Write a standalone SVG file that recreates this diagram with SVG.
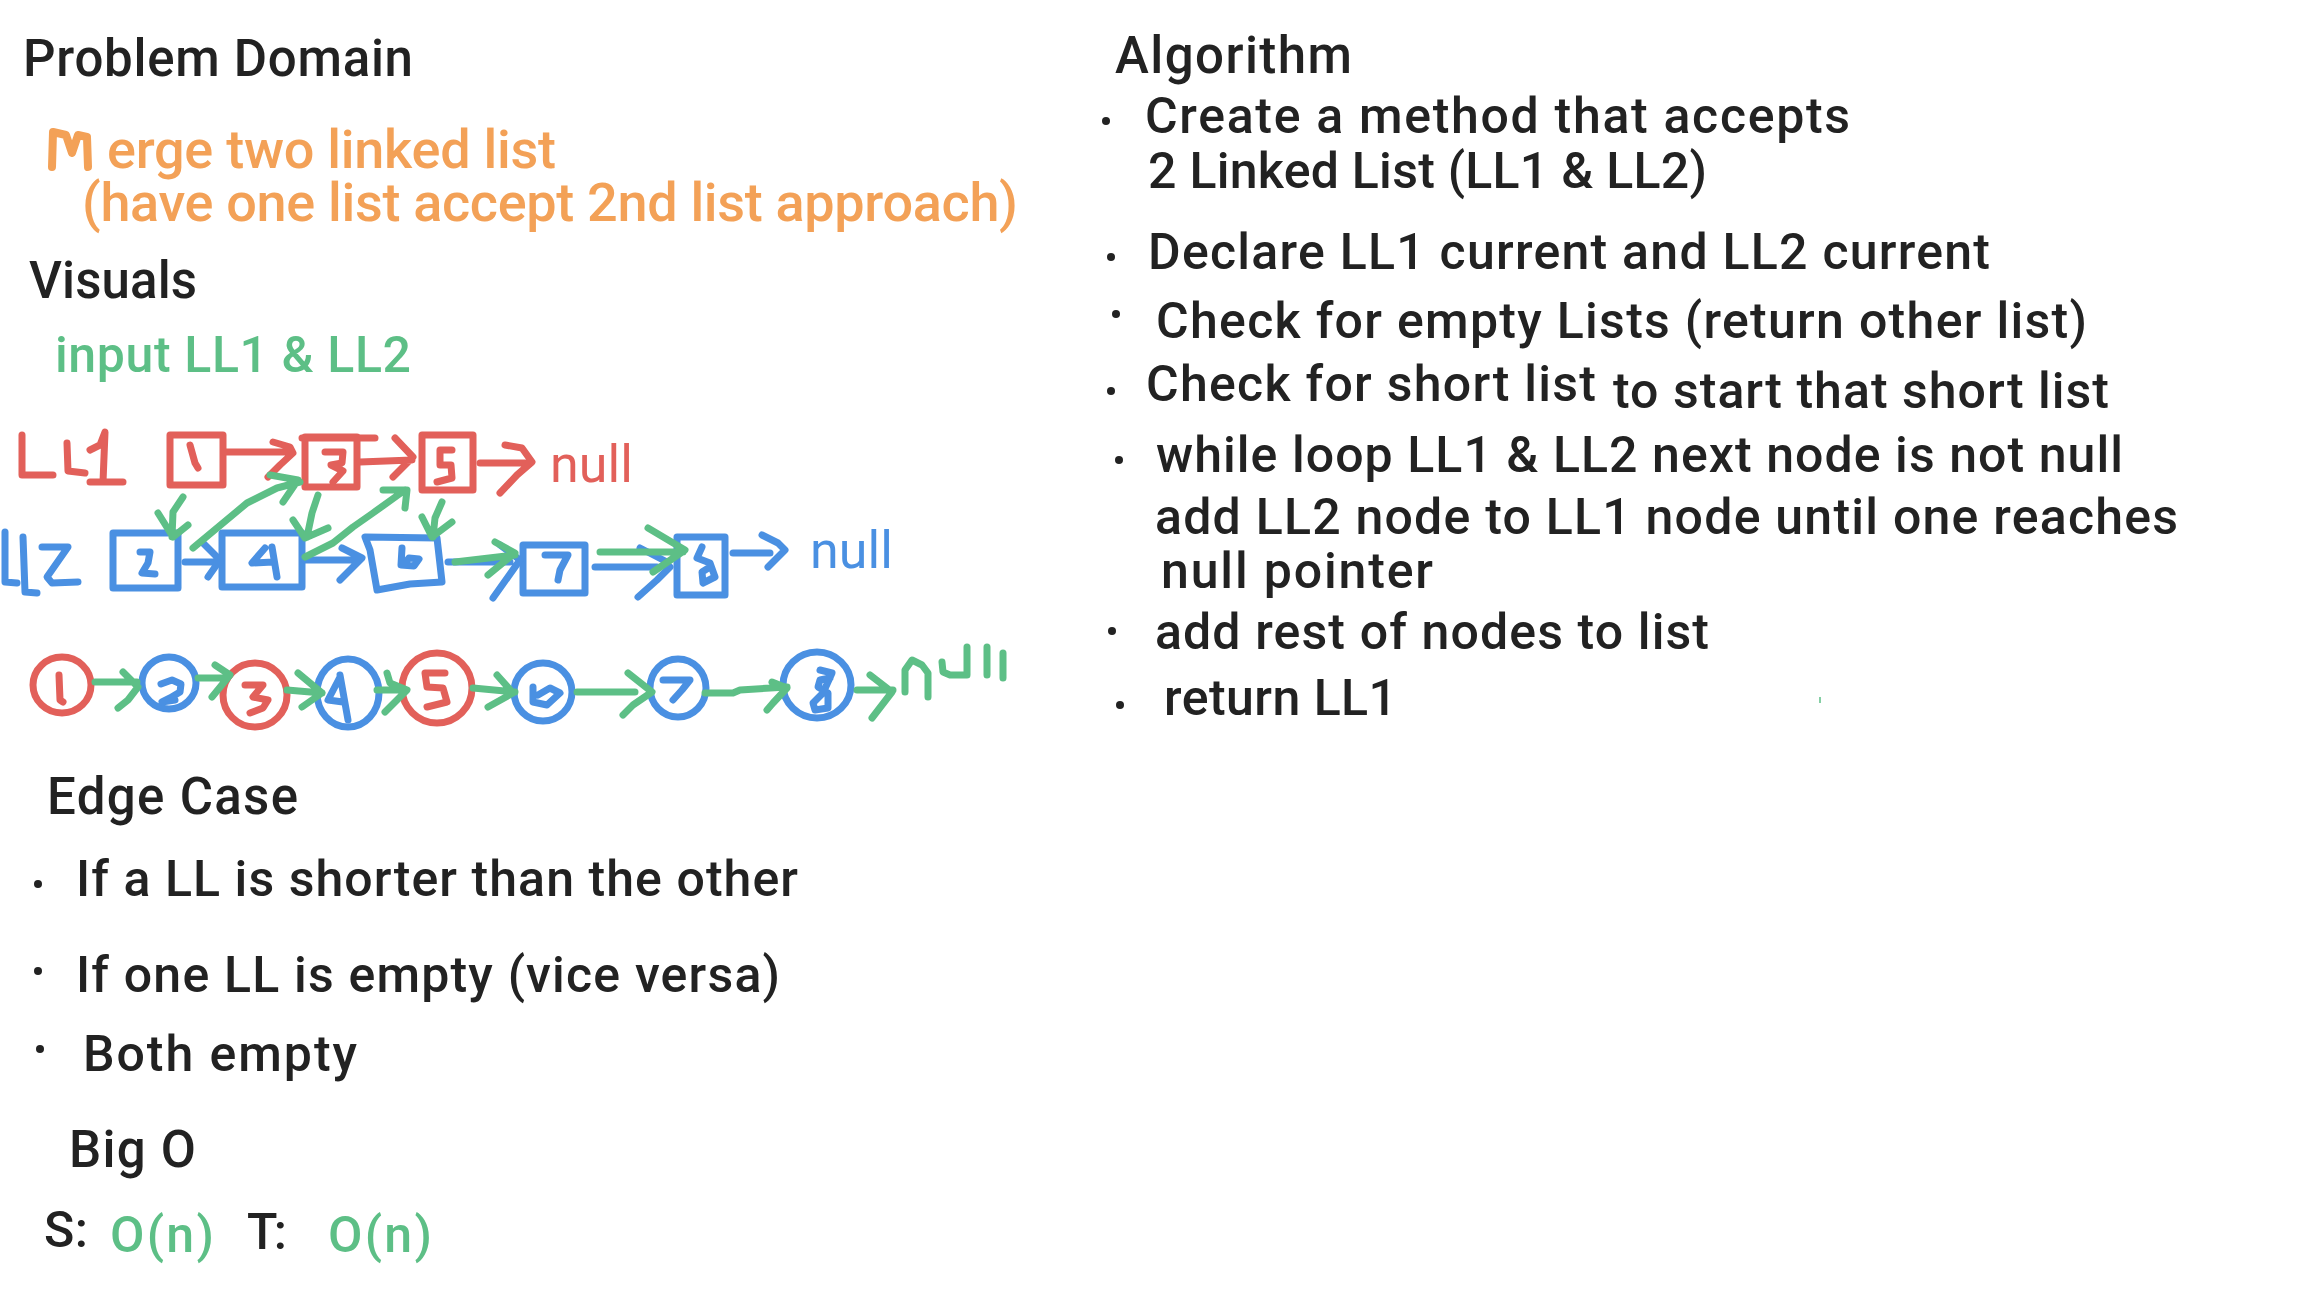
<svg xmlns="http://www.w3.org/2000/svg" width="2304" height="1296" viewBox="0 0 2304 1296">
<style>
text{font-family:Roboto,"Liberation Sans",sans-serif;font-weight:500;}
.k{fill:#222222;font-size:50px;}
.h{fill:#222222;font-size:51px;}
.or{fill:#F3A157;font-size:54px;}
.gt{fill:#5DBF86;font-size:50px;}
.rt{fill:#E2605A;font-size:52px;font-weight:400;}
.bt{fill:#4A90E2;font-size:52px;font-weight:400;}
.s{fill:none;stroke-width:7;stroke-linecap:round;stroke-linejoin:round;}
.r{stroke:#E2605A;}
.b{stroke:#4A90E2;}
.g{stroke:#5DBF86;}
.o{stroke:#F3A157;stroke-width:8;}
.dot{fill:#222222;}
</style>
<rect width="2304" height="1296" fill="#ffffff"/>

<g id="problem-domain">
<text class="h" x="23" y="76" textLength="390">Problem Domain</text>
<path class="s o" d="M52,167 L53,132 L66,135 L72,153 L78,135 L87,137 L88,167"/>
<text class="or" x="107" y="168" textLength="449">erge two linked list</text>
<text class="or" x="82" y="221" textLength="936">(have one list accept 2nd list approach)</text>
</g>

<g id="visuals">
<text class="h" x="29" y="298" textLength="168">Visuals</text>
<text class="gt" x="55" y="372" textLength="356">input LL1 &amp; LL2</text>
</g>

<g id="ll1-label">
<path class="s r" d="M22,435 L22,475 L53,475 M67,443 L68,471 L85,473 M90,450 L100,445 L105,432 L103,482 M90,482 L123,482"/>
</g>
<g id="ll1-node1">
<rect class="s r" x="170" y="435" width="53" height="50"/>
<path class="s r" d="M190,445 L195,463 L198,468"/>
</g>
<g id="ll1-node3">
<rect class="s r" x="305" y="437" width="52" height="50"/>
<path class="s r" d="M302,438 L375,438 M325,452 L343,452 L342,463 L331,465 L343,471 L333,482"/>
</g>
<g id="ll1-node5">
<rect class="s r" x="422" y="435" width="51" height="55"/>
<path class="s r" d="M452,450 L440,450 L440,465 L451,465 L452,478 L437,482"/>
</g>
<text id="ll1-null" class="rt" x="550" y="482" textLength="83">null</text>

<g id="ll2-label">
<path class="s b" d="M5,532 L5,582 L17,583 M23,537 L25,592 L37,593 M42,547 L68,547 L47,577 L52,583 L78,582"/>
</g>
<g id="ll2-node2">
<rect class="s b" x="113" y="533" width="65" height="55"/>
<path class="s b" d="M140,552 L150,552 L148,563 L142,573 L155,574"/>
</g>
<g id="ll2-node4">
<rect class="s b" x="222" y="533" width="80" height="54"/>
<path class="s b" d="M265,548 L252,563 L273,562 M272,547 L277,577"/>
</g>
<g id="ll2-node6">
<path class="s b" d="M365,537 L437,538 L442,582 L410,584 L377,590 L370,550 Z"/>
<path class="s b" d="M402,548 L401,565 L414,566 L419,559 L409,558 L405,563"/>
</g>
<g id="ll2-node7">
<rect class="s b" x="523" y="545" width="62" height="48"/>
<path class="s b" d="M545,555 L568,555 L560,570 L558,580"/>
</g>
<g id="ll2-node8">
<rect class="s b" x="677" y="537" width="48" height="58"/>
<path class="s b" d="M702,547 L697,558 L710,563 L715,577 L703,583 L702,572 L710,567"/>
</g>
<text id="ll2-null" class="bt" x="810" y="568" textLength="83">null</text>

<g id="m1"><ellipse class="s r" cx="62" cy="685" rx="29" ry="28"/><path class="s r" d="M59,675 L60,700 L63,702"/></g>
<g id="m2"><ellipse class="s b" cx="169" cy="683" rx="27" ry="26"/><path class="s b" d="M161,684 L172,680 L181,684 L180,692 L170,698 L162,702 L175,700"/></g>
<g id="m3"><ellipse class="s r" cx="255" cy="695" rx="32" ry="32"/><path class="s r" d="M245,685 L263,685 L253,697 L268,700 L263,708 L250,713"/></g>
<g id="m4"><ellipse class="s b" cx="348" cy="693" rx="31" ry="34"/><path class="s b" d="M340,677 L328,700 L343,702 M340,675 L348,720"/></g>
<g id="m5"><ellipse class="s r" cx="437" cy="688" rx="35" ry="35"/><path class="s r" d="M445,673 L425,673 L427,687 L443,688 L447,702 L427,707"/></g>
<g id="m6"><ellipse class="s b" cx="543" cy="692" rx="29" ry="29"/><path class="s b" d="M533,687 L533,702 L547,705 L560,693 L550,688 L538,695"/></g>
<g id="m7"><ellipse class="s b" cx="678" cy="688" rx="28" ry="29"/><path class="s b" d="M663,680 L690,680 L682,690 L673,700"/></g>
<g id="m8"><ellipse class="s b" cx="817" cy="685" rx="34" ry="33"/><path class="s b" d="M820,670 L832,673 L823,693 L813,703 L815,710 L828,708 L828,693 L818,687 L820,680 L830,678"/></g>
<g id="merged-null">
<path class="s g" d="M905,692 L905,670 L912,660 L922,665 L928,673 L928,697 M942,662 L943,672 L950,675 L967,675 L967,647 M987,647 L987,675 M1003,653 L1003,678"/>
</g>

<g id="connectors">
<path class="s r" d="M225,452 L287,452 M273,442 L290,447 L293,453 L280,465 L268,477"/>
<path class="s r" d="M360,462 L412,460 M395,438 L413,457 L393,477"/>
<path class="s r" d="M480,463 L525,463 M505,445 L522,448 L532,462 L517,475 L500,493"/>
<path class="s b" d="M185,562 L220,562 M203,543 L220,560 L208,577"/>
<path class="s b" d="M305,560 L358,560 M342,548 L362,558 L340,580"/>
<path class="s b" d="M448,562 L510,562 M500,545 L520,560 L493,598"/>
<path class="s b" d="M595,567 L657,567 M640,548 L667,562 M638,597 L657,580 L670,567"/>
<path class="s b" d="M733,553 L770,553 M762,535 L778,543 L785,550 L768,567"/>
<path class="s g" d="M183,497 L173,512 L172,537 M158,513 L173,537 L188,525"/>
<path class="s g" d="M193,548 L247,503 L277,488 L300,482 M270,475 L298,480 L283,502"/>
<path class="s g" d="M318,495 L312,513 L307,537 M293,520 L305,538 L328,528"/>
<path class="s g" d="M305,557 L333,543 L353,527 L373,513 L405,490 M383,490 L407,490 L405,508"/>
<path class="s g" d="M442,502 L435,518 L433,537 M422,517 L432,537 L452,522"/>
<path class="s g" d="M455,562 L515,555 M495,542 L515,553 L488,575"/>
<path class="s g" d="M600,552 L683,552 M648,528 L685,550 L653,572"/>
<path class="s g" d="M95,682 L137,682 M123,672 L138,687 L128,700 L118,708"/>
<path class="s g" d="M198,678 L225,678 M215,665 L230,675 L212,697"/>
<path class="s g" d="M287,690 L322,693 M298,673 L322,693 L302,707"/>
<path class="s g" d="M377,690 L405,690 M387,673 L390,683 L407,690 L385,712"/>
<path class="s g" d="M473,688 L515,692 M497,675 L513,693 L488,707"/>
<path class="s g" d="M577,692 L635,692 M628,673 L652,692 L633,705 L623,715"/>
<path class="s g" d="M705,693 L733,693 L740,690 L787,687 M772,682 L787,688 L773,703 L767,710"/>
<path class="s g" d="M857,690 L893,690 M870,675 L892,692 L872,718"/>
</g>

<g id="algorithm">
<text class="h" x="1115" y="73" textLength="237">Algorithm</text>
<circle class="dot" cx="1106" cy="121" r="4"/>
<text class="k" x="1145" y="133" textLength="705">Create a method that accepts</text>
<text class="k" x="1148" y="188" textLength="559">2 Linked List (LL1 &amp; LL2)</text>
<circle class="dot" cx="1111" cy="257" r="4"/>
<text class="k" x="1148" y="269" textLength="842">Declare LL1 current and LL2 current</text>
<circle class="dot" cx="1116" cy="314" r="4"/>
<text class="k" x="1156" y="338" textLength="931">Check for empty Lists (return other list)</text>
<circle class="dot" cx="1111" cy="391" r="4"/>
<text class="k" x="1146" y="401" textLength="450">Check for short list</text>
<text class="k" x="1613" y="408" textLength="496">to start that short list</text>
<circle class="dot" cx="1119" cy="460" r="4"/>
<text class="k" x="1156" y="472" textLength="967">while loop LL1 &amp; LL2 next node is not null</text>
<text class="k" x="1155" y="534" textLength="1023">add LL2 node to LL1 node until one reaches</text>
<text class="k" x="1161" y="588" textLength="272">null pointer</text>
<circle class="dot" cx="1112" cy="631" r="4"/>
<text class="k" x="1155" y="649" textLength="554">add rest of nodes to list</text>
<circle class="dot" cx="1120" cy="705" r="4"/>
<text class="k" x="1164" y="715" textLength="233">return LL1</text>
<line x1="1820" y1="697" x2="1820" y2="703" stroke="#5DBF86" stroke-width="1.5"/>
</g>

<g id="edge-case">
<text class="h" x="47" y="814" textLength="251">Edge Case</text>
<circle class="dot" cx="38" cy="884" r="4"/>
<text class="k" x="76" y="896" textLength="722">If a LL is shorter than the other</text>
<circle class="dot" cx="38" cy="971" r="4"/>
<text class="k" x="76" y="992" textLength="704">If one LL is empty (vice versa)</text>
<circle class="dot" cx="40" cy="1049" r="4"/>
<text class="k" x="83" y="1071" textLength="274">Both empty</text>
</g>

<g id="big-o">
<text class="h" x="69" y="1167" textLength="127">Big O</text>
<text class="k" x="44" y="1247" textLength="44">S:</text>
<text class="gt" x="110" y="1252" textLength="104">O(n)</text>
<text class="k" x="247" y="1249" textLength="40">T:</text>
<text class="gt" x="328" y="1252" textLength="104">O(n)</text>
</g>
</svg>
